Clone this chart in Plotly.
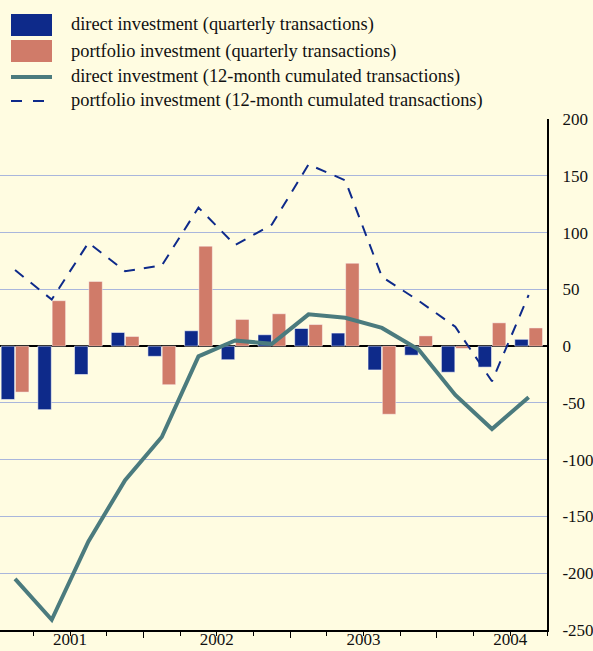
import numpy as np
import plotly.graph_objects as go

# Quarterly data, 2001 Q1 - 2004 Q3 (EUR billions)
quarters = ["2001Q1", "2001Q2", "2001Q3", "2001Q4",
            "2002Q1", "2002Q2", "2002Q3", "2002Q4",
            "2003Q1", "2003Q2", "2003Q3", "2003Q4",
            "2004Q1", "2004Q2", "2004Q3"]
direct_q = [-47, -56, -25, 12, -9, 13.5, -12, 10, 15.5, 11.5, -21, -8, -23, -18.5, 6]
portfolio_q = [-40.5, 40, 57, 8.5, -34, 88, 23.5, 28.5, 19, 73, -60, 9, -2, 20.5, 16]
direct_12m = [-205, -241, -172, -118, -80, -9, 5, 2, 28, 25, 16, -3, -43, -73, -45]
portfolio_12m = [67, 41, 91, 66, 71, 122, 89, 107, 160, 146, 61, 40, 17, -31, 45]

years = ["2001", "2002", "2003", "2004"]
y_ticks = [-250, -200, -150, -100, -50, 0, 50, 100, 150, 200]

legend_labels = [
    "direct investment (quarterly transactions)",
    "portfolio investment (quarterly transactions)",
    "direct investment (12-month cumulated transactions)",
    "portfolio investment (12-month cumulated transactions)",
]

BG = "#fffce1"
NAVY = "#0e2a8a"
SALMON = "#d07b69"
TEAL = "#4b7b7e"
GRID = "#a9b6dc"
FONT = "Liberation Serif"
INK = "#111111"

W, H = 593, 651
M_L, M_R, M_T, M_B = 0, 46, 119, 21

x = np.arange(len(quarters))
# year labels sit mid-year, year boundaries between Q4 and Q1
year_mid = [4 * k + 1.5 for k in range(len(years))]
quarter_edges = [i + 0.5 for i in range(len(quarters))]
year_edges = [4 * k + 3.5 for k in range(len(years) - 1)]

fig = go.Figure()
fig.add_trace(go.Bar(x=x, y=direct_q, name=legend_labels[0],
                     marker=dict(color=NAVY, line=dict(color="rgba(255,255,255,0.55)", width=1))))
fig.add_trace(go.Bar(x=x, y=portfolio_q, name=legend_labels[1],
                     marker=dict(color=SALMON, line=dict(color="rgba(255,255,255,0.45)", width=1))))
fig.add_trace(go.Scatter(x=x, y=direct_12m, mode="lines", name=legend_labels[2],
                         line=dict(color=TEAL, width=4)))
fig.add_trace(go.Scatter(x=x, y=portfolio_12m, mode="lines", name=legend_labels[3],
                         line=dict(color=NAVY, width=2, dash="11px,9px")))
# carrier for the long year-boundary ticks
fig.add_trace(go.Scatter(x=[], y=[], xaxis="x2", showlegend=False))

xr = [-0.41, 14.5]
fig.update_layout(
    width=W, height=H,
    margin=dict(l=M_L, r=M_R, t=M_T, b=M_B),
    paper_bgcolor=BG, plot_bgcolor=BG,
    showlegend=False,
    barmode="group", bargap=0.22, bargroupgap=0.06,
    font=dict(family=FONT, size=17, color=INK),
    xaxis=dict(range=xr, showgrid=False, zeroline=False, automargin=False,
               showline=True, linecolor="black", linewidth=2,
               tickmode="array", tickvals=year_mid, ticktext=years,
               ticks="outside", ticklen=4, tickwidth=1, tickcolor="black",
               ticklabelstandoff=-11,
               minor=dict(tickmode="array", tickvals=quarter_edges, ticks="outside",
                          ticklen=4, tickwidth=1, tickcolor="black"),
               tickfont=dict(family=FONT, size=17, color=INK)),
    xaxis2=dict(range=xr, overlaying="x", side="bottom", anchor="y", automargin=False,
                showgrid=False, zeroline=False, showline=False,
                tickmode="array", tickvals=year_edges, ticktext=[""] * len(year_edges),
                ticks="outside", ticklen=7, tickwidth=1, tickcolor="black"),
    yaxis=dict(range=[-250, 200], side="right", automargin=False,
               tickmode="array", tickvals=y_ticks, ticktext=[str(v) for v in y_ticks],
               showgrid=True, gridcolor=GRID, gridwidth=1,
               zeroline=True, zerolinecolor="black", zerolinewidth=2,
               showline=True, linecolor="black", linewidth=2,
               ticks="", ticklabelstandoff=10,
               tickfont=dict(family=FONT, size=17, color=INK)),
)

# legend drawn as swatches + text above the plot area
plot_w = W - M_L - M_R
plot_h = H - M_T - M_B


def px_x(p):
    return (p - M_L) / plot_w


def px_y(p):
    return (H - M_B - p) / plot_h


row_y = [25, 51, 77, 101]
sx0, sx1, tx = 11, 52, 69
fig.add_shape(type="rect", xref="paper", yref="paper",
              x0=px_x(sx0), x1=px_x(sx1), y0=px_y(row_y[0] - 11), y1=px_y(row_y[0] + 11),
              fillcolor=NAVY, line=dict(width=0))
fig.add_shape(type="rect", xref="paper", yref="paper",
              x0=px_x(sx0), x1=px_x(sx1), y0=px_y(row_y[1] - 11), y1=px_y(row_y[1] + 11),
              fillcolor=SALMON, line=dict(width=0))
fig.add_shape(type="line", xref="paper", yref="paper",
              x0=px_x(sx0), x1=px_x(sx1), y0=px_y(row_y[2]), y1=px_y(row_y[2]),
              line=dict(color=TEAL, width=4))
fig.add_shape(type="line", xref="paper", yref="paper",
              x0=px_x(sx0), x1=px_x(sx1), y0=px_y(row_y[3]), y1=px_y(row_y[3]),
              line=dict(color=NAVY, width=2, dash="11px,11px"))
for label, ry in zip(legend_labels, row_y):
    fig.add_annotation(xref="paper", yref="paper", x=px_x(tx), y=px_y(ry),
                       text=label, showarrow=False, xanchor="left", yanchor="middle",
                       font=dict(family=FONT, size=18.4, color=INK))

fig.write_html("out.html")
